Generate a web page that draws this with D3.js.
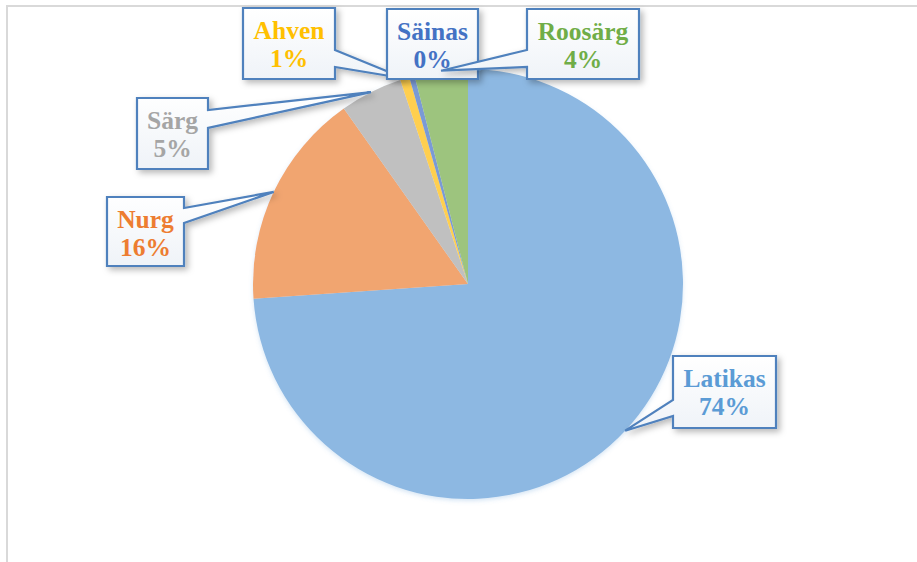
<!DOCTYPE html>
<html>
<head>
<meta charset="utf-8">
<script src="https://cdn.jsdelivr.net/npm/d3@7"></script>
<style>
  html, body { margin: 0; padding: 0; background: #ffffff; }
  svg { display: block; }
</style>
</head>
<body>
<svg id="chart" width="917" height="562"></svg>
<script>
// Catch composition (% of total)
const categories = ["Latikas", "Nurg", "Särg", "Ahven", "Säinas", "Roosärg"];
const shares = [73.9, 16.3, 4.7, 0.7, 0.4, 4.0];

// Slice fills and matching label text colours
const sliceColors = ["#8db8e2", "#f1a56f", "#c0c0c0", "#ffcf4f", "#7a9ad6", "#9dc47e"];
const labelColors = ["#5b9bd5", "#ed7d31", "#a5a5a5", "#ffc000", "#4472c4", "#70ad47"];

// Callout boxes: [left, top, width, height], side the pointer leaves from, pointer base offsets
const calloutBoxes = [
  { box: [673, 356, 103, 72], side: "left",  base: [44, 60] },
  { box: [107, 197, 77, 69],  side: "right", base: [11, 26] },
  { box: [137, 98, 71, 71],   side: "right", base: [12, 30] },
  { box: [243, 8, 92, 71],    side: "right", base: [42, 59] },
  { box: [387, 9, 91, 70],    side: null,    base: null },
  { box: [527, 9, 112, 70],   side: "left",  base: [41, 58] }
];

const svg = d3.select("#chart");
const cx = 468, cy = 284, radius = 215;

// Chart area frame (top and left edges visible)
svg.append("path")
  .attr("d", "M7,562 L7,6 L917,6")
  .attr("fill", "none")
  .attr("stroke", "#d9d9d9")
  .attr("stroke-width", 2);

const defs = svg.append("defs");
const grad = defs.append("linearGradient")
  .attr("id", "boxFill").attr("x1", 0).attr("y1", 0).attr("x2", 0).attr("y2", 1);
grad.append("stop").attr("offset", "0%").attr("stop-color", "#ffffff");
grad.append("stop").attr("offset", "100%").attr("stop-color", "#eff3f8");

const shadow = defs.append("filter").attr("id", "boxShadow")
  .attr("x", "-20%").attr("y", "-20%").attr("width", "150%").attr("height", "150%");
shadow.append("feDropShadow")
  .attr("dx", 3).attr("dy", 3).attr("stdDeviation", 3)
  .attr("flood-color", "#000000").attr("flood-opacity", 0.28);

const pieShadow = defs.append("filter").attr("id", "pieShadow")
  .attr("x", "-10%").attr("y", "-10%").attr("width", "120%").attr("height", "120%");
pieShadow.append("feDropShadow")
  .attr("dx", 0).attr("dy", 2).attr("stdDeviation", 2)
  .attr("flood-color", "#5b9bd5").attr("flood-opacity", 0.25);

const data = categories.map((name, i) => ({ name, value: shares[i], i }));
const total = d3.sum(shares);

const pie = d3.pie().sort(null).value(d => d.value).startAngle(0).endAngle(2 * Math.PI);
const arcs = pie(data);
const arc = d3.arc().innerRadius(0).outerRadius(radius);

const g = svg.append("g").attr("transform", `translate(${cx},${cy})`);
g.append("g").attr("filter", "url(#pieShadow)")
  .selectAll("path")
  .data(arcs)
  .join("path")
  .attr("d", arc)
  .attr("fill", d => sliceColors[d.data.i]);

// Point on the pie rim at the middle of a slice
function rimPoint(d) {
  const a = (d.startAngle + d.endAngle) / 2;
  return [cx + radius * Math.sin(a), cy - radius * Math.cos(a)];
}

function calloutPath(c, tip) {
  const [x0, y0, w, h] = c.box;
  const x1 = x0 + w, y1 = y0 + h;
  if (c.side === "right") {
    const ya = y0 + c.base[0], yb = y0 + c.base[1];
    return `M${x0},${y0}L${x1},${y0}L${x1},${ya}L${tip[0]},${tip[1]}L${x1},${yb}L${x1},${y1}L${x0},${y1}Z`;
  }
  if (c.side === "left") {
    const ya = y0 + c.base[0], yb = y0 + c.base[1];
    return `M${x0},${y0}L${x1},${y0}L${x1},${y1}L${x0},${y1}L${x0},${yb}L${tip[0]},${tip[1]}L${x0},${ya}Z`;
  }
  return `M${x0},${y0}L${x1},${y0}L${x1},${y1}L${x0},${y1}Z`;
}

const labels = svg.append("g");
arcs.forEach(d => {
  const i = d.data.i;
  const c = calloutBoxes[i];
  const tip = rimPoint(d);
  const lg = labels.append("g");
  lg.append("path")
    .attr("d", calloutPath(c, tip))
    .attr("fill", "url(#boxFill)")
    .attr("stroke", "#4f81bd")
    .attr("stroke-width", 2.2)
    .attr("stroke-linejoin", "miter")
    .attr("filter", "url(#boxShadow)");
  const tx = c.box[0] + c.box[2] / 2;
  const pct = Math.round(d.data.value / total * 100) + "%";
  const t = lg.append("text")
    .attr("text-anchor", "middle")
    .attr("font-family", "'Liberation Serif', 'Times New Roman', serif")
    .attr("font-weight", "bold")
    .attr("font-size", 25.5)
    .attr("fill", labelColors[i]);
  t.append("tspan").attr("x", tx).attr("y", c.box[1] + 31).text(d.data.name);
  t.append("tspan").attr("x", tx).attr("y", c.box[1] + 59).text(pct);
});
</script>
</body>
</html>
